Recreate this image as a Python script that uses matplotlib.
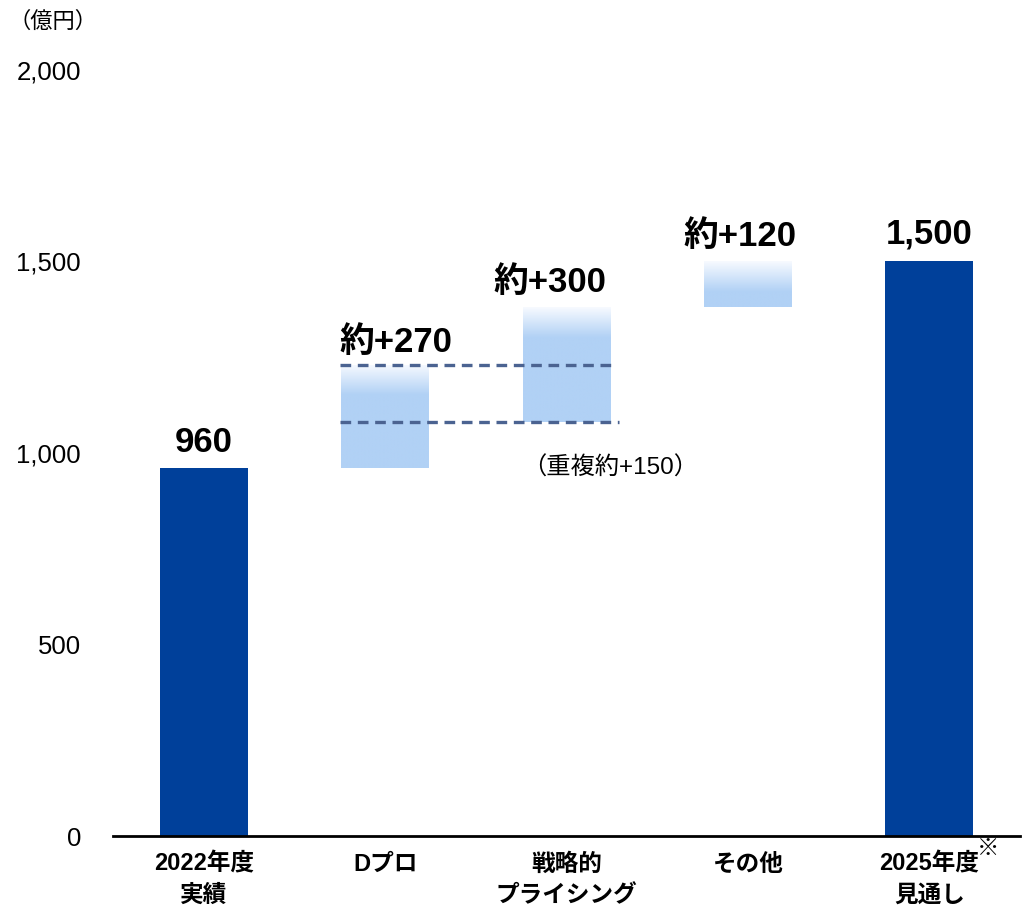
import numpy as np
import matplotlib.pyplot as plt
from matplotlib.colors import LinearSegmentedColormap

plt.rcParams['font.family'] = ['Liberation Sans', 'Noto Sans CJK JP']

categories = ['2022年度\n実績', 'Dプロ', '戦略的\nプライシング', 'その他', '2025年度\n見通し']
bottoms = [0, 960, 1080, 1380, 0]
heights = [960, 270, 300, 120, 1500]
value_labels = ['960', '約+270', '約+300', '約+120', '1,500']
is_total = [True, False, False, False, True]
overlap_levels = [1230, 1080]   # overlap between Dプロ and pricing
overlap_note = '（重複約+150）'

dark = '#00409a'
light = '#b1d1f5'
fade = LinearSegmentedColormap.from_list('fade', ['#f7faff', light])

fig = plt.figure(figsize=(10.35, 9.11), dpi=100)
ax = fig.add_axes([0.1092, 0.0823, 0.8763, 0.8409])

x = np.arange(len(categories))
w = 0.485
for i in x:
    col = dark if is_total[i] else light
    bars = ax.bar(i, heights[i], bottom=bottoms[i], width=w, color=col, lw=0, zorder=2)
    if not is_total[i]:
        # gradient from near-white at the top edge down into the bar colour,
        # clipped to the bar itself so the edges line up
        top = bottoms[i] + heights[i]
        g = np.concatenate([np.linspace(0, 1, 64), np.ones(200)]).reshape(-1, 1)
        im = ax.imshow(g, cmap=fade, vmin=0, vmax=1,
                       extent=[i - w, i + w, top - 80 * 264 / 64, top],
                       origin='upper', aspect='auto', interpolation='bilinear', zorder=3)
        im.set_clip_path(bars[0])

label_dx = [0, 8, -12, -6, 0]
label_dy = [7, 4, 6, 6, 8]
for i in x:
    top = bottoms[i] + heights[i]
    ax.annotate(value_labels[i], (i, top), xytext=(label_dx[i], label_dy[i]),
                textcoords='offset points', ha='center', va='bottom',
                fontsize=25, fontweight='bold', zorder=5)

ax.plot([0.75, 2.28], [overlap_levels[0]] * 2, color='#4b6391', lw=2.4,
        linestyle=(0, (3.2, 2.0)), zorder=4)
ax.plot([0.75, 2.29], [overlap_levels[1]] * 2, color='#4b6391', lw=2.4,
        linestyle=(0, (3.2, 2.0)), zorder=4)
ax.text(2.24, 960, overlap_note, ha='center', va='center', fontsize=17.5)

ax.set_xlim(-0.5, 4.5)
ax.set_ylim(0, 2000)
ax.set_yticks([0, 500, 1000, 1500, 2000])
ax.set_yticklabels(['0', '500', '1,000', '1,500', '2,000'], fontsize=18.5)
ax.set_xticks(x)
ax.set_xticklabels(categories, fontsize=17, fontweight='bold', linespacing=1.45)
ax.tick_params(axis='both', length=0)
ax.tick_params(axis='y', pad=23)
ax.tick_params(axis='x', pad=12)
for s in ['left', 'right', 'top']:
    ax.spines[s].set_visible(False)
ax.spines['bottom'].set_linewidth(2)
ax.spines['bottom'].set_zorder(6)

ax.annotate('※', (4, 0), xytext=(34, -2), textcoords='offset points',
            ha='left', va='top', fontsize=16, fontweight='bold')
fig.text(0.008, 0.976, '（億円）', ha='left', va='center', fontsize=16)

fig.savefig('out.png', dpi=100)
